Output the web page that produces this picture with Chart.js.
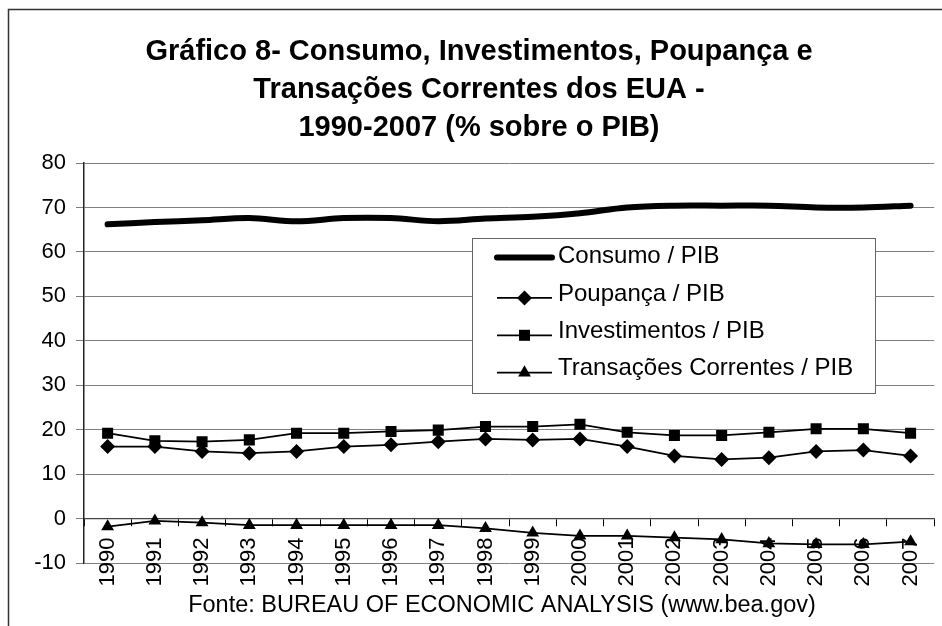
<!DOCTYPE html>
<html>
<head>
<meta charset="utf-8">
<script src="https://cdn.jsdelivr.net/npm/chart.js@4.4.1/dist/chart.umd.min.js"></script>
<style>
  html, body { margin: 0; padding: 0; background: #fff; }
  canvas { display: block; }
</style>
</head>
<body>
<canvas id="chart" width="942" height="626"></canvas>
<script>
// ===== Data (% of GDP) =====
var years = ['1990', '1991', '1992', '1993', '1994', '1995', '1996', '1997', '1998',
             '1999', '2000', '2001', '2002', '2003', '2004', '2005', '2006', '2007'];
var consumo       = [66.2, 66.7, 67.1, 67.6, 66.9, 67.6, 67.6, 66.9, 67.5, 67.9, 68.7, 70.0, 70.4, 70.4, 70.4, 70.0, 70.0, 70.4];
var poupanca      = [16.2, 16.2, 15.1, 14.7, 15.1, 16.2, 16.6, 17.3, 17.9, 17.7, 17.9, 16.2, 14.1, 13.3, 13.7, 15.1, 15.4, 14.1];
var investimentos = [19.2, 17.5, 17.3, 17.7, 19.2, 19.2, 19.6, 19.9, 20.7, 20.7, 21.2, 19.4, 18.7, 18.7, 19.4, 20.2, 20.2, 19.2];
var transacoes    = [-1.8, -0.5, -0.9, -1.5, -1.5, -1.5, -1.5, -1.5, -2.2, -3.2, -3.9, -3.9, -4.3, -4.7, -5.6, -5.8, -5.8, -5.2];
var seriesNames = ['Consumo / PIB', 'Poupança / PIB', 'Investimentos / PIB', 'Transações Correntes / PIB'];
var yMin = -10, yMax = 80, yStep = 10;
var titleLines = ['Gráfico 8- Consumo, Investimentos, Poupança e',
                  'Transações Correntes dos EUA -',
                  '1990-2007 (% sobre o PIB)'];
var sourceText = 'Fonte: BUREAU OF ECONOMIC ANALYSIS (www.bea.gov)';

var FONT = '"Liberation Sans", Arial, sans-serif';

// marker helper: library drawPoint if present, simple shapes otherwise
function marker(ctx, style, r, x, y) {
  if (window.Chart && Chart.helpers && Chart.helpers.drawPoint) {
    Chart.helpers.drawPoint(ctx, { pointStyle: style, radius: r, rotation: 0, borderWidth: 0 }, x, y);
    return;
  }
  ctx.beginPath();
  if (style === 'rectRot') {
    ctx.moveTo(x - r, y); ctx.lineTo(x, y - r); ctx.lineTo(x + r, y); ctx.lineTo(x, y + r);
  } else if (style === 'rect') {
    var s = r * Math.SQRT1_2;
    ctx.rect(x - s, y - s, 2 * s, 2 * s);
  } else if (style === 'triangle') {
    ctx.moveTo(x, y - r);
    ctx.lineTo(x + r * 0.866, y + r / 2);
    ctx.lineTo(x - r * 0.866, y + r / 2);
  }
  ctx.closePath();
  ctx.fill();
}

// legend box inside the plot, frame and source line
var decor = {
  id: 'decor',
  afterDatasetsDraw: function(chart) {
    var ctx = chart.ctx;
    ctx.save();
    ctx.fillStyle = '#fff';
    ctx.fillRect(472, 238, 403, 155);
    ctx.strokeStyle = '#666';
    ctx.lineWidth = 1;
    ctx.strokeRect(472.5, 238.5, 403, 155);

    ctx.font = '24px ' + FONT;
    ctx.textBaseline = 'middle';
    ctx.textAlign = 'left';
    chart.data.datasets.forEach(function(ds, i) {
      var ty = 256.5 + i * 37.4;
      var my = ty + (i === 0 ? 1 : 4);
      ctx.strokeStyle = '#000';
      ctx.fillStyle = '#000';
      ctx.lineWidth = ds.borderWidth;
      ctx.lineCap = i === 0 ? 'round' : 'butt';
      ctx.beginPath();
      ctx.moveTo(497, my);
      ctx.lineTo(552, my);
      ctx.stroke();
      if (ds.pointRadius > 0) marker(ctx, ds.pointStyle, ds.pointRadius, 524.5, my);
      ctx.fillText(ds.label, 558, ty);
    });
    ctx.restore();
  },
  afterDraw: function(chart) {
    var ctx = chart.ctx;
    ctx.save();
    ctx.fillStyle = '#000';
    ctx.font = '23.5px ' + FONT;
    ctx.textAlign = 'center';
    ctx.textBaseline = 'middle';
    ctx.fillText(sourceText, 502, 606);
    ctx.strokeStyle = '#333';
    ctx.lineWidth = 1.5;
    ctx.strokeRect(8.5, 9.5, 1000, 1000);
    ctx.restore();
  }
};

new Chart(document.getElementById('chart'), {
  type: 'line',
  data: {
    labels: years,
    datasets: [
      { label: seriesNames[0], data: consumo, borderColor: '#000', backgroundColor: '#000',
        borderWidth: 6, pointRadius: 0, pointStyle: 'line', tension: 0.35,
        borderCapStyle: 'round', borderJoinStyle: 'round' },
      { label: seriesNames[1], data: poupanca, borderColor: '#000', backgroundColor: '#000',
        borderWidth: 1.75, pointStyle: 'rectRot', pointRadius: 7.5, pointBorderWidth: 0 },
      { label: seriesNames[2], data: investimentos, borderColor: '#000', backgroundColor: '#000',
        borderWidth: 1.75, pointStyle: 'rect', pointRadius: 7.8, pointBorderWidth: 0 },
      { label: seriesNames[3], data: transacoes, borderColor: '#000', backgroundColor: '#000',
        borderWidth: 1.75, pointStyle: 'triangle', pointRadius: 7.4, pointBorderWidth: 0 },
    ],
  },
  options: {
    responsive: false,
    animation: false,
    layout: { padding: { left: 16, right: 0, top: 0, bottom: 63 } },
    plugins: {
      legend: { display: false },
      tooltip: { enabled: false },
      title: {
        display: true,
        text: titleLines,
        color: '#000',
        font: { family: FONT, size: 29, weight: 'bold', lineHeight: 38 / 29 },
        padding: { top: 33, bottom: 16 },
      },
    },
    scales: {
      x: {
        position: { y: 0 },
        offset: true,
        grid: { offset: true, drawOnChartArea: false, drawTicks: true, tickLength: 7, color: '#000', lineWidth: 1 },
        border: { display: true, color: '#444', width: 1.25 },
        ticks: {
          autoSkip: false, minRotation: 90, maxRotation: 90, padding: 12,
          color: '#000', font: { family: FONT, size: 22 },
        },
        afterFit: function(s) { s.paddingLeft = 0; s.paddingRight = 0; },
      },
      y: {
        min: yMin,
        max: yMax,
        grid: { color: '#808080', lineWidth: 1, tickLength: 8 },
        border: { color: '#222', width: 1.5 },
        ticks: { stepSize: yStep, padding: 10, color: '#000', font: { family: FONT, size: 22 } },
        afterFit: function(s) { s.width = 68; },
      },
    },
  },
  plugins: [decor],
});
</script>
</body>
</html>
